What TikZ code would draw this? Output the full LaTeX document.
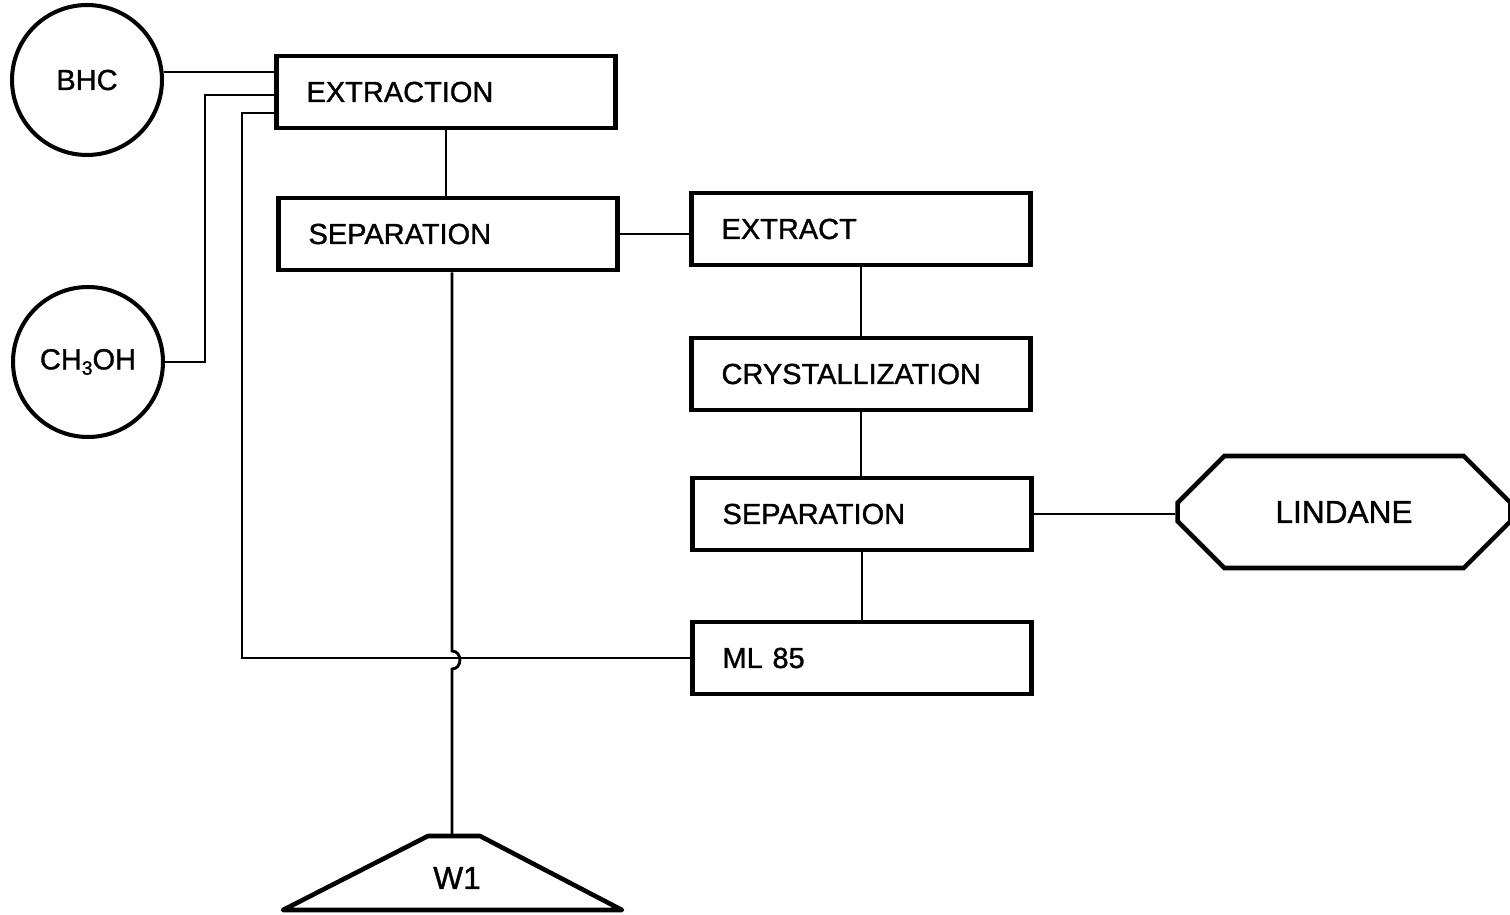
\documentclass[tikz,border=0pt]{standalone}
\usepackage{fontspec}
\setmainfont{Liberation Sans}
\newfontfamily\stagefont{Liberation Sans}[FakeBold=1.2]
\usetikzlibrary{shapes.misc,calc}

\begin{document}
\begin{tikzpicture}[x=0.02cm,y=-0.02cm,
	every node/.style={font=\stagefont\fontsize{16.5}{19}\selectfont},
	stage/.style={draw,line width=2.6pt,rectangle,minimum height=1.44cm,
		text width=5.58cm,inner xsep=0.6cm,align=left},
	feed/.style={draw,line width=2.3pt,circle,minimum size=3cm,inner sep=0pt},
	product/.style={draw,line width=2.6pt,chamfered rectangle,
		chamfered rectangle xsep=0.66cm,chamfered rectangle ysep=0.6cm,
		minimum width=6.66cm,minimum height=2.24cm,
		font=\stagefont\fontsize{18}{21}\selectfont},
	pipe/.style={line width=1.6pt}]
	\useasboundingbox (0,0) rectangle (1510,915);
			\node[feed] (bhc) at (87,80) {BHC};
			\node[feed] (meoh) at (88,362) {CH\raisebox{-0.35ex}{\fontsize{11}{13}\selectfont 3}OH};
			\node[stage] (ext) at (446,92) {EXTRACTION};
			\node[stage] (sep) at (448,234) {SEPARATION};
			\node[stage] (extract) at (861,229) {EXTRACT};
			\node[stage] (cryst) at (861,374) {CRYSTALLIZATION};
			\node[stage] (sepb) at (862,514) {SEPARATION};
			\node[stage] (ml) at (862,658) {ML 85};
			\node[product] (lindane) at (1344,512) {LINDANE};
			\coordinate (w1) at (452,836);
			\node[font=\stagefont\fontsize{18}{21}\selectfont] (w1label) at (457,878) {W1};
			\draw[line width=2.6pt,line join=round] (w1) -- (480,836) -- (622,910) -- (283,910) -- (428,836) -- cycle;
			%feeds
			\draw[pipe] (bhc.6) -- (bhc.6 -| ext.west);
			\draw[pipe] (meoh.east) -| (205,95) -- (ext.west |- 0,95);
			\draw[pipe] (ml.west) -| (242,113) -- (ext.west |- 0,113);
			\draw[pipe] (ext.south) -- (sep.north -| ext.south);
			\draw[pipe] (sep.south -| w1) -- (452,651) to[out=0,in=0,looseness=1.5] (452,669) -- (w1);
			\draw[pipe] (sep.east) -- (sep.east -| extract.west);
			\draw[pipe] (extract.south) -- (cryst.north -| extract.south);
			\draw[pipe] (cryst.south) -- (sepb.north -| cryst.south);
			\draw[pipe] (sepb.south) -- (ml.north);
			\draw[pipe] (sepb.east) -- (sepb.east -| lindane.west);
\end{tikzpicture}
\end{document}
